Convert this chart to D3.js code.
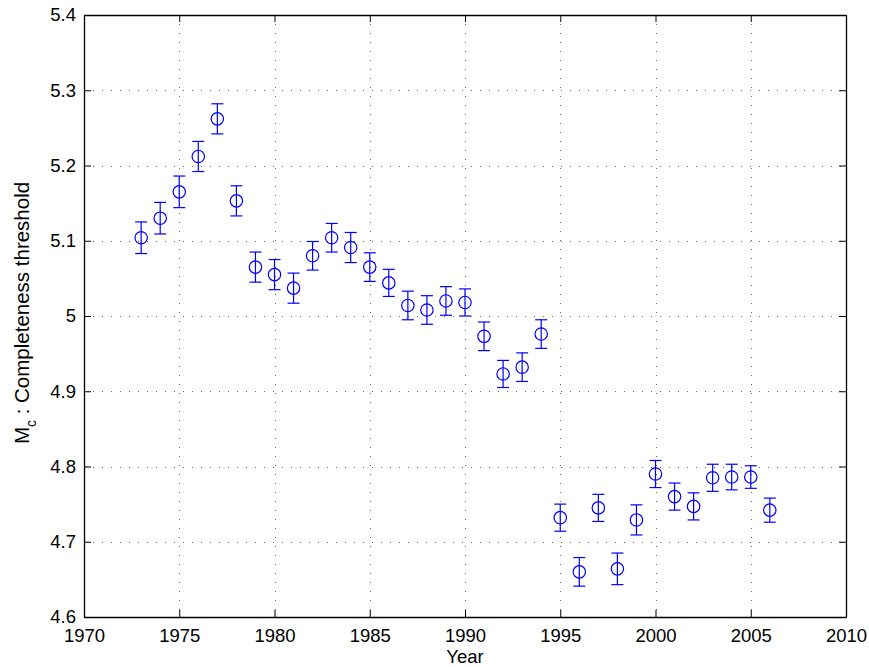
<!DOCTYPE html>
<html>
<head>
<meta charset="utf-8">
<script src="https://cdn.jsdelivr.net/npm/d3@7"></script>
<style>
    body { margin: 0; background: #fff; }
    text { font-family: Arial, 'Liberation Sans', sans-serif; fill: #000; }
</style>
</head>
<body>
<div id="chart"></div>
<script>
const years = [1973, 1974, 1975, 1976, 1977, 1978, 1979, 1980, 1981, 1982, 1983, 1984,
    1985, 1986, 1987, 1988, 1989, 1990, 1991, 1992, 1993, 1994, 1995, 1996, 1997,
    1998, 1999, 2000, 2001, 2002, 2003, 2004, 2005, 2006];
const mc = [5.104, 5.130, 5.165, 5.212, 5.262, 5.153, 5.065, 5.055, 5.037, 5.080, 5.104,
    5.091, 5.065, 5.044, 5.014, 5.008, 5.020, 5.018, 4.973, 4.923, 4.932, 4.976, 4.732,
    4.660, 4.745, 4.664, 4.729, 4.790, 4.760, 4.747, 4.785, 4.786, 4.786, 4.742];
const err = [0.021, 0.021, 0.021, 0.020, 0.020, 0.020, 0.020, 0.020, 0.020, 0.019, 0.019,
    0.020, 0.019, 0.018, 0.019, 0.019, 0.019, 0.018, 0.019, 0.018, 0.019, 0.019, 0.018,
    0.019, 0.018, 0.021, 0.020, 0.018, 0.018, 0.018, 0.018, 0.017, 0.015, 0.016];
const xTicks = [1970, 1975, 1980, 1985, 1990, 1995, 2000, 2005, 2010];
const yTicks = [4.6, 4.7, 4.8, 4.9, 5.0, 5.1, 5.2, 5.3, 5.4];

const chart = (() => {
    const width = 869;
    const height = 667;
    const margin = { top: 15, left: 84, right: 23, bottom: 50 };
    const tickLen = 7;
    const blue = '#0000ff';

    const draw = () => {
        const data = years.map((y, i) => ({ year: y, v: mc[i], e: err[i] }));

        const svg = d3.select('#chart')
            .append('svg')
            .attr('width', width)
            .attr('height', height);

        const x = d3.scaleLinear()
            .domain([1970, 2010])
            .range([margin.left, width - margin.right]);

        const y = d3.scaleLinear()
            .domain([4.6, 5.4])
            .range([height - margin.bottom, margin.top]);

        // dotted grid
        const grid = svg.append('g')
            .attr('stroke', '#666')
            .attr('stroke-width', 1)
            .attr('stroke-dasharray', '1,8');

        grid.selectAll('.gx')
            .data(xTicks.slice(1, -1))
            .join('line')
            .attr('x1', d => Math.round(x(d)) + 0.5)
            .attr('x2', d => Math.round(x(d)) + 0.5)
            .attr('y1', y(5.4))
            .attr('y2', y(4.6));

        grid.selectAll('.gy')
            .data(yTicks.slice(1, -1))
            .join('line')
            .attr('y1', d => Math.round(y(d)) + 0.5)
            .attr('y2', d => Math.round(y(d)) + 0.5)
            .attr('x1', x(1970))
            .attr('x2', x(2010));

        // axes, inward ticks on all four sides
        const xAxis = g => g
            .attr('transform', `translate(0, ${y(4.6)})`)
            .call(d3.axisBottom(x)
                .tickValues(xTicks)
                .tickSizeInner(-tickLen)
                .tickSizeOuter(0)
                .tickPadding(12)
                .tickFormat(d3.format('d')))
            .attr('font-size', '18.5px');

        const yAxis = g => g
            .attr('transform', `translate(${x(1970)}, 0)`)
            .call(d3.axisLeft(y)
                .tickValues(yTicks)
                .tickSizeInner(-tickLen)
                .tickSizeOuter(0)
                .tickPadding(8)
                .tickFormat(d => d3.format('.1f')(d).replace(/\.0$/, '')))
            .attr('font-size', '18.5px');

        svg.append('g').call(xAxis);
        svg.append('g').call(yAxis);

        svg.append('g')
            .attr('transform', `translate(0, ${y(5.4)})`)
            .call(d3.axisTop(x).tickValues(xTicks).tickSizeInner(-tickLen).tickSizeOuter(0).tickFormat(''));

        svg.append('g')
            .attr('transform', `translate(${x(2010)}, 0)`)
            .call(d3.axisRight(y).tickValues(yTicks).tickSizeInner(-tickLen).tickSizeOuter(0).tickFormat(''));

        svg.selectAll('.domain')
            .attr('stroke', '#000')
            .attr('stroke-width', 1.3);
        svg.selectAll('.tick line')
            .attr('stroke', '#000');
        svg.selectAll('.tick text')
            .attr('fill', '#000')
            .attr('font-family', 'Arial, "Liberation Sans", sans-serif');

        // error bars
        const capW = 6;
        const bars = svg.append('g')
            .attr('stroke', blue)
            .attr('stroke-width', 1.2)
            .attr('fill', 'none')
            .selectAll('g')
            .data(data)
            .join('g');

        bars.append('line')
            .attr('x1', d => x(d.year))
            .attr('x2', d => x(d.year))
            .attr('y1', d => y(d.v + d.e))
            .attr('y2', d => y(d.v - d.e));

        bars.append('line')
            .attr('x1', d => x(d.year) - capW)
            .attr('x2', d => x(d.year) + capW)
            .attr('y1', d => y(d.v + d.e))
            .attr('y2', d => y(d.v + d.e));

        bars.append('line')
            .attr('x1', d => x(d.year) - capW)
            .attr('x2', d => x(d.year) + capW)
            .attr('y1', d => y(d.v - d.e))
            .attr('y2', d => y(d.v - d.e));

        bars.append('circle')
            .attr('cx', d => x(d.year))
            .attr('cy', d => y(d.v))
            .attr('r', 6.2);

        // labels
        svg.append('text')
            .attr('x', (x(1970) + x(2010)) / 2)
            .attr('y', 663)
            .attr('text-anchor', 'middle')
            .attr('font-size', '18.5px')
            .text('Year');

        const yl = svg.append('text')
            .attr('transform', `translate(29, 313) rotate(-90)`)
            .attr('text-anchor', 'middle')
            .attr('font-size', '20.5px');
        yl.append('tspan').text('M');
        yl.append('tspan')
            .attr('font-size', '14px')
            .attr('dy', 7)
            .text('c');
        yl.append('tspan')
            .attr('dy', -7)
            .text(' : Completeness threshold');
    };

    return { draw };
})();

chart.draw();
</script>
</body>
</html>
